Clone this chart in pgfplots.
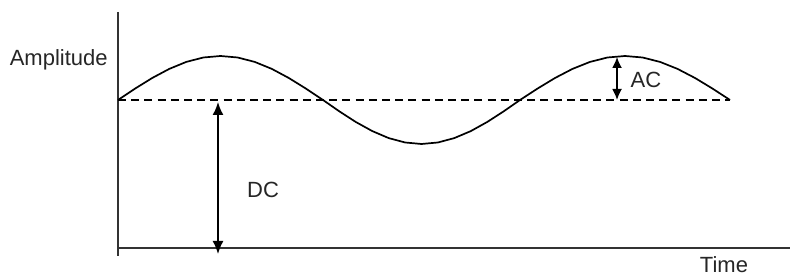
\documentclass[border=0pt]{standalone}
\usepackage{pgfplots}
\pgfplotsset{compat=1.18}
\usepackage{fontspec}
\setmainfont{Liberation Sans}
\usetikzlibrary{arrows.meta}
\begin{document}
\begin{tikzpicture}
\clip (0,0) rectangle (395pt,138pt);
\begin{axis}[
  scale only axis, width=395pt, height=138pt,
  xmin=0, xmax=790, ymin=0, ymax=276,
  hide axis, clip=false,
]
% axes
\addplot[color=black!80, line width=0.85pt] coordinates {(118,264) (118,20)};
\addplot[color=black!80, line width=0.85pt] coordinates {(118,28) (790,28)};
% DC level
\addplot[black, line width=0.75pt, dash pattern=on 4pt off 2.6pt] coordinates {(118,176) (730,176)};
% signal
\addplot[black, line width=0.85pt] coordinates {
(118,176) (135.1,187.4) (152.2,198) (169.3,207.1) (186.3,214.1) (203.4,218.5) (220.5,220)
(237.6,218.5) (254.7,214.1) (271.8,207.1) (288.8,198) (305.9,187.4) (323,176)
(339.4,164.6) (355.8,154) (372.3,144.9) (388.7,137.9) (405.1,133.5) (421.5,132)
(437.9,133.5) (454.3,137.9) (470.8,144.9) (487.2,154) (503.6,164.6) (520,176)
(537.5,187.4) (555,198) (572.5,207.1) (590,214.1) (607.5,218.5) (625,220)
(642.5,218.5) (660,214.1) (677.5,207.1) (695,198) (712.5,187.4) (730,176)
};
% arrows
\addplot[black, line width=0.85pt, {Latex[length=6.5pt,width=5.5pt]}-{Latex[length=6.5pt,width=5.5pt]}] coordinates {(218,174) (218,22)};
\addplot[black, line width=0.85pt, {Latex[length=5.5pt,width=5pt]}-{Latex[length=5.5pt,width=5pt]}] coordinates {(617,219) (617,176)};
% labels
\node[anchor=east, text=black!85, font=\fontsize{11}{13}\selectfont, inner sep=0pt] at (axis cs:108,216) {Amplitude};
\node[text=black!85, font=\fontsize{11}{13}\selectfont, inner sep=0pt] at (axis cs:263,86) {DC};
\node[text=black!85, font=\fontsize{11}{13}\selectfont, inner sep=0pt] at (axis cs:646,196) {AC};
\node[anchor=south, text=black!85, font=\fontsize{11}{13}\selectfont, inner sep=0pt] at (axis cs:724,3) {Time};
\end{axis}
\end{tikzpicture}
\end{document}
